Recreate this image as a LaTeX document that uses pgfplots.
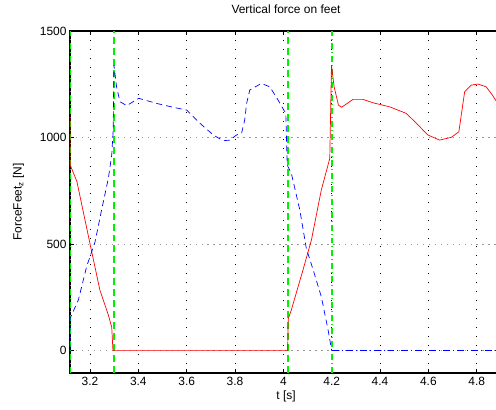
\documentclass[border=0pt]{standalone}
\usepackage{pgfplots}
\pgfplotsset{compat=1.18}
\usepackage{fontspec}
\setmainfont{Liberation Sans}

\definecolor{fred}{rgb}{1,0,0}
\definecolor{fblue}{rgb}{0,0,1}
\definecolor{phasegreen}{rgb}{0,0.95,0}

\begin{document}
\begin{tikzpicture}[x=1bp,y=1bp]
\begin{axis}[
  at={(70bp,37bp)}, anchor=south west,
  scale only axis, width=432bp, height=342bp,
  xmin=3.1173, xmax=4.9045, ymin=-105, ymax=1500,
  xtick={3.2,3.4,...,4.81}, ytick={0,500,1000,1500},
  xticklabels={3.2,3.4,3.6,3.8,4,4.2,4.4,4.6,4.8},
  yticklabels={0,500,1000,1500},
  scaled ticks=false,
  /pgf/number format/assume math mode=true,
  /pgf/number format/1000 sep={},
  font=\fontsize{12}{14}\selectfont,
  tick label style={font=\fontsize{12}{14}\selectfont},
  xticklabel style={yshift=-1bp},
  tick align=inside, major tick length=4bp,
  xtick pos=both, ytick pos=left,
  axis line style={black, line width=1.1pt},
  tick style={black, line width=0.8pt},
  xmajorgrids, ymajorgrids,
  major x grid style={black, line width=0.5pt, dash pattern=on 1pt off 8pt},
  major y grid style={gray!80, line width=0.6pt, dash pattern=on 1.5pt off 4.5pt},
  title={Vertical force on feet},
  title style={yshift=8bp},
  xlabel={t [s]}, ylabel={ForceFeet$_\mathrm{z}$ [N]},
  xlabel style={yshift=2bp},
  ylabel style={yshift=9bp},
  clip=true,
]
% phase boundaries: single support start/end
\addplot[draw=phasegreen, line width=1.5pt, dash pattern=on 7pt off 4pt] table {
x y
3.2990 -105
3.2990 1500
};
\addplot[draw=phasegreen, line width=1.5pt, dash pattern=on 7pt off 4pt] table {
x y
4.0200 -105
4.0200 1500
};
% phase boundaries: double support start/end
\addplot[draw=phasegreen, line width=1.7pt, dash pattern=on 6pt off 3pt on 1pt off 3pt] table {
x y
3.1185 -105
3.1185 1500
};
\addplot[draw=phasegreen, line width=1.7pt, dash pattern=on 6pt off 3pt on 1pt off 3pt] table {
x y
4.2010 -105
4.2010 1500
};

% foot 1
\addplot[fred, line width=0.7pt] coordinates {
(3.117,1097) (3.118,871) (3.146,793) (3.197,518) (3.241,284) (3.276,167)
(3.290,110) (3.295,0) (4.018,0) (4.020,149) (4.033,191) (4.081,378)
(4.116,519) (4.157,754) (4.192,902) (4.199,1340) (4.210,1238) (4.228,1152)
(4.241,1142) (4.288,1179) (4.329,1179) (4.371,1163) (4.440,1144) (4.509,1113)
(4.550,1067) (4.598,1012) (4.646,988) (4.695,1001) (4.726,1027) (4.750,1215)
(4.777,1246) (4.805,1251) (4.839,1238) (4.860,1207) (4.878,1176) (4.900,1140)
};

% foot 2
\addplot[fblue, line width=0.7pt, dash pattern=on 6pt off 4pt] coordinates {
(3.117,0) (3.118,152) (3.152,238) (3.186,394) (3.221,511) (3.248,660)
(3.276,809) (3.290,918) (3.296,1035) (3.299,1340) (3.310,1238) (3.324,1168)
(3.352,1150) (3.402,1184) (3.476,1160) (3.544,1142) (3.600,1129) (3.655,1067)
(3.710,1012) (3.751,985) (3.779,988) (3.806,1012) (3.827,1020) (3.840,1082)
(3.848,1160) (3.861,1223) (3.909,1254) (3.944,1238) (3.978,1176) (4.010,1113)
(4.016,871) (4.033,832) (4.068,660) (4.095,480) (4.123,380) (4.157,253)
(4.185,97) (4.200,0)
};
\addplot[fblue, line width=0.7pt, dash pattern=on 7pt off 3pt on 1pt off 3pt] coordinates {
(4.200,0) (4.905,0)
};
\end{axis}
\pgfresetboundingbox
\path[use as bounding box] (0,0) rectangle (496bp,410bp);
\end{tikzpicture}
\end{document}
